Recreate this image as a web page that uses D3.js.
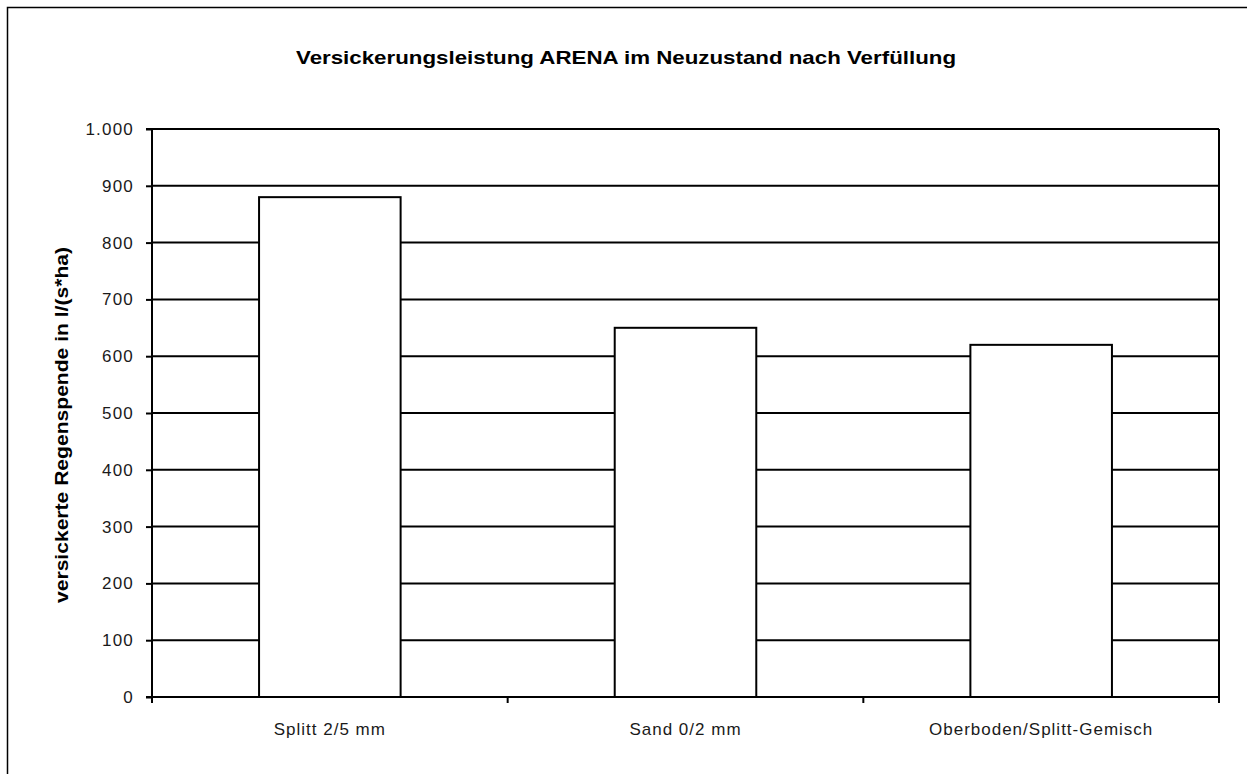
<!DOCTYPE html>
<html><head><meta charset="utf-8">
<script src="https://cdn.jsdelivr.net/npm/d3@7"></script>
<style>body{margin:0;background:#fff}svg{display:block}</style>
</head><body>
<script>
const categories = ["Splitt 2/5 mm", "Sand 0/2 mm", "Oberboden/Splitt-Gemisch"];
const values = [880, 650, 620];
const yTicks = [0,100,200,300,400,500,600,700,800,900,1000];
const tickLabels = ["0","100","200","300","400","500","600","700","800","900","1.000"];
const title = "Versickerungsleistung ARENA im Neuzustand nach Verfüllung";
const yTitle = "versickerte Regenspende in l/(s*ha)";

const W = 1247, H = 774;
const L = 152, R = 1219, T = 129, B = 697;
const FONT = "Liberation Sans, Arial, sans-serif";
const svg = d3.select("body").append("svg").attr("width", W).attr("height", H);

// outer frame (left & top visible)
svg.append("path").attr("d", `M7.5,${H+5} V7.5 H${W+5}`).attr("fill","none").attr("stroke","#000").attr("stroke-width",1.5);

const x = d3.scaleBand().domain(categories).range([L, R]).padding(0);
const y = d3.scaleLinear().domain([0, 1000]).range([B, T]);

// gridlines
svg.append("g").selectAll("line").data(yTicks.slice(1)).join("line")
  .attr("x1", L).attr("x2", R).attr("y1", d => y(d)).attr("y2", d => y(d))
  .attr("stroke", "#000").attr("stroke-width", 2);

// bars
const bw = x.bandwidth() * 0.398;
svg.append("g").selectAll("rect").data(values).join("rect")
  .attr("x", (d, i) => x(categories[i]) + x.bandwidth()/2 - bw/2)
  .attr("y", d => y(d)).attr("width", bw).attr("height", d => B - y(d))
  .attr("fill", "#fff").attr("stroke", "#000").attr("stroke-width", 2);

// right edge
svg.append("line").attr("x1", R).attr("x2", R).attr("y1", T).attr("y2", B + 6).attr("stroke", "#000").attr("stroke-width", 2);

// y axis
const yAxis = d3.axisLeft(y).tickValues(yTicks).tickFormat((d, i) => tickLabels[i]).tickSize(6).tickPadding(12);
const gy = svg.append("g").attr("transform", `translate(${L},0)`).call(yAxis);
gy.select(".domain").attr("stroke", "#000").attr("stroke-width", 2).attr("d", `M-6,${T}H0V${B + 6}`);
gy.selectAll(".tick line").attr("stroke", "#000").attr("stroke-width", 2);
gy.selectAll(".tick text").attr("font-family", FONT).attr("font-size", 17)
  .attr("letter-spacing", 1.2).attr("fill", "#1a1a1a");

// x axis
const gx = svg.append("g").attr("transform", `translate(0,${B})`);
gx.append("line").attr("x1", L - 6).attr("x2", R).attr("y1", 0).attr("y2", 0).attr("stroke", "#000").attr("stroke-width", 2);
const edges = [L].concat(categories.map(c => x(c) + x.bandwidth()));
gx.selectAll("line.t").data(edges).join("line").attr("class","t")
  .attr("x1", d => d).attr("x2", d => d).attr("y1", 0).attr("y2", 6)
  .attr("stroke", "#000").attr("stroke-width", 2);
gx.selectAll("text").data(categories).join("text")
  .attr("x", d => x(d) + x.bandwidth()/2).attr("y", 38)
  .attr("text-anchor", "middle").attr("font-family", FONT)
  .attr("font-size", 17).attr("letter-spacing", 1).attr("fill", "#1a1a1a").text(d => d);

// title
svg.append("text").attr("x", 626).attr("y", 64).attr("text-anchor", "middle")
  .attr("font-family", FONT).attr("font-weight", "bold")
  .attr("font-size", 19).attr("textLength", 660).attr("lengthAdjust", "spacingAndGlyphs").text(title);

// y title
svg.append("text").attr("transform", `translate(68,425) rotate(-90)`)
  .attr("text-anchor", "middle").attr("font-family", FONT)
  .attr("font-weight", "bold").attr("font-size", 18).attr("textLength", 356)
  .attr("lengthAdjust", "spacingAndGlyphs").text(yTitle);
</script>
</body></html>
